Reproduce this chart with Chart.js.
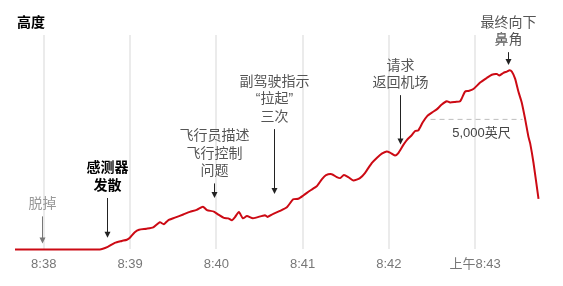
<!DOCTYPE html>
<html>
<head>
<meta charset="utf-8">
<script src="https://cdn.jsdelivr.net/npm/chart.js@4"></script>
<style>
  html, body { margin: 0; padding: 0; background: #fff; }
  #wrap { width: 563px; height: 286px; }
</style>
</head>
<body>
<div id="wrap"><canvas id="altitude-chart" width="563" height="286"></canvas></div>
<script>
// seconds after 8:38:00 and altitude above ground (feet)
const secs = [-20, 39, 44.5, 49.4, 54.3, 57.8, 59.9, 63.3, 66.3, 71.5, 76.1, 80.7, 83.5, 86.5, 91.2, 97, 101.6, 106.3, 110.7, 113.5,
  118.3, 121.8, 125.3, 128.3, 130.9, 133, 135.7, 138.5, 141.3, 145.5, 153.8, 155.6, 159.6, 164.3, 169.1, 173.5, 177, 180.5, 185.1, 189.8,
  193.5, 196.3, 200.3, 203.8, 206.1, 208.8, 211.8, 215.3, 219.9, 223.5, 228.1, 231.6, 235.1, 238.5, 240.8, 244.3, 246.6, 250.1, 252.5, 255.9,
  258.3, 260.5, 263.6, 266.8, 269.9, 273.3, 276.8, 280.3, 282.6, 286.1, 289.6, 293, 295.4, 298.8, 303.5, 308.1, 311.6, 315.1, 316.9, 319.7,
  322.1, 324, 325.5, 327.8, 330.1, 332.5, 334.8, 337.1, 338.3, 340.6, 344.1];
const altFt = [0, 0, 100, 250, 325, 373, 448, 660, 757, 795, 847, 1045, 970, 1120, 1220, 1343, 1444, 1518, 1642, 1511,
  1455, 1325, 1213, 1194, 1120, 1242, 1436, 1194, 1280, 1194, 1317, 1250, 1369, 1481, 1623, 1929, 1948, 2071, 2257, 2425,
  2705, 2854, 2892, 2780, 2742, 2862, 2780, 2649, 2742, 2947, 3320, 3518, 3682, 3768, 3723, 3608, 3705, 4018, 4205, 4391,
  4552, 4578, 4888, 5137, 5261, 5384, 5570, 5697, 5652, 5671, 5697, 6070, 6093, 6167, 6417, 6593, 6716, 6742, 6690, 6790,
  6839, 6891, 6839, 6567, 6070, 5634, 5011, 4328, 4078, 3332, 1940];

const tickSecs = [0, 60, 120, 180, 240, 300];
const tickLabels = ['8:38', '8:39', '8:40', '8:41', '8:42', '上午8:43'];

const title = '高度';

// annotations: text lines, time (s), arrow tip and arrow top altitude (ft)
const noteLines = [['脱掉'], ['感测器', '发散'], ['飞行员描述', '飞行控制', '问题'], ['副驾驶指示', '“拉起”', '三次'], ['请求', '返回机场'], ['最终向下', '鼻角']];
const noteSecs = [-1.5, 44, 118.7, 160, 247.7, 323];
const noteTipFt = [224, 448, 1977, 2127, 4030, 7089];
const noteTopFt = [1269, 1977, 2537, 4626, 5932, 7585];

const refFt = 5000;
const refFrom = 269;
const refTo = 333;
const refLabel = '5,000英尺';

const FONT = "'Liberation Sans', 'Noto Sans CJK SC', sans-serif";

const notesPlugin = {
    id: 'notes',
    afterDatasetsDraw(chart) {
        const ctx = chart.ctx;
        const xs = chart.scales.x;
        const ys = chart.scales.y;
        ctx.save();

        // 5,000 ft reference
        const ry = ys.getPixelForValue(refFt);
        ctx.strokeStyle = '#bdbdbd';
        ctx.lineWidth = 1;
        ctx.setLineDash([5, 4]);
        ctx.beginPath();
        ctx.moveTo(xs.getPixelForValue(refFrom), ry);
        ctx.lineTo(xs.getPixelForValue(refTo), ry);
        ctx.stroke();
        ctx.setLineDash([]);
        ctx.font = '13px ' + FONT;
        ctx.fillStyle = '#444';
        ctx.textAlign = 'center';
        ctx.textBaseline = 'middle';
        ctx.fillText(refLabel, xs.getPixelForValue((refFrom + refTo) / 2) + 5, ry + 14);

        noteLines.forEach(function(lines, i) {
            const x = Math.round(xs.getPixelForValue(noteSecs[i])) + 0.5;
            const tip = ys.getPixelForValue(noteTipFt[i]);
            const top = ys.getPixelForValue(noteTopFt[i]);
            const arrowColor = i === 0 ? '#777' : '#222';
            ctx.strokeStyle = arrowColor;
            ctx.fillStyle = arrowColor;
            ctx.lineWidth = 1;
            ctx.beginPath();
            ctx.moveTo(x, top);
            ctx.lineTo(x, tip - 5);
            ctx.stroke();
            ctx.beginPath();
            ctx.moveTo(x - 3, tip - 6);
            ctx.lineTo(x + 3, tip - 6);
            ctx.lineTo(x, tip);
            ctx.closePath();
            ctx.fill();

            if (i === 1) {
                ctx.font = 'bold 14px ' + FONT;
                ctx.fillStyle = '#000';
            } else {
                ctx.font = '14px ' + FONT;
                ctx.fillStyle = i === 0 ? '#999' : '#555';
            }
            const lh = 17.5;
            const lastY = top - 12;
            lines.forEach(function(t, j) {
                ctx.fillText(t, x, lastY - (lines.length - 1 - j) * lh);
            });
        });

        ctx.font = 'bold 14px ' + FONT;
        ctx.fillStyle = '#000';
        ctx.textAlign = 'left';
        ctx.fillText(title, 17, 23);
        ctx.restore();
    }
};

const ctx = document.getElementById('altitude-chart').getContext('2d');
new Chart(ctx, {
    type: 'line',
    data: {
        datasets: [{
            data: secs.map((s, i) => ({ x: s, y: altFt[i] })),
            borderColor: '#cc0a14',
            borderWidth: 2,
            pointRadius: 0,
            tension: 0.2,
            fill: false,
            clip: false
        }]
    },
    options: {
        responsive: false,
        animation: false,
        layout: { padding: { top: 35, bottom: 7, left: 15, right: 16 } },
        plugins: { legend: { display: false }, tooltip: { enabled: false } },
        scales: {
            x: {
                type: 'linear',
                min: -20,
                max: 350,
                afterBuildTicks: axis => { axis.ticks = tickSecs.map(v => ({ value: v })); },
                border: { display: false },
                grid: { color: '#ebebeb', lineWidth: 2, drawTicks: false },
                ticks: {
                    padding: 7,
                    color: '#777',
                    font: { family: FONT, size: 13 },
                    maxRotation: 0,
                    autoSkip: false,
                    callback: function(value) {
                        const k = tickSecs.indexOf(value);
                        return k >= 0 ? tickLabels[k] : '';
                    }
                }
            },
            y: {
                display: false,
                min: 0,
                max: 8245
            }
        }
    },
    plugins: [notesPlugin]
});
</script>
</body>
</html>
